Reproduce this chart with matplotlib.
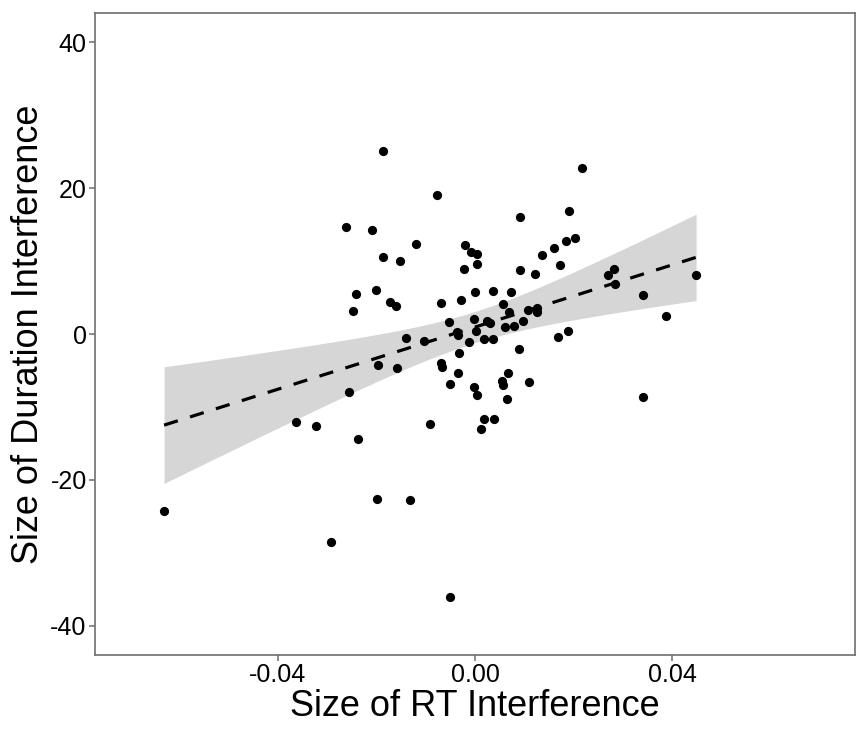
import numpy as np
import matplotlib
matplotlib.use("Agg")
import matplotlib.pyplot as plt

plt.rcParams["font.family"] = ["Liberation Sans", "DejaVu Sans"]
plt.rcParams["axes.unicode_minus"] = False

# values (x = RT interference, y = duration interference)
rt_interference = [
    -0.0186, -0.0261, -0.0209, -0.0186, -0.0242, -0.0201, -0.0248, 0.0216,
    -0.0077, 0.0091, 0.0190, -0.0152, -0.0119, -0.0020, -0.0009, 0.0005,
    -0.0022, 0.0005, 0.0092, 0.0122, 0.0135, 0.0160, 0.0184, 0.0203,
    0.0173, -0.0173, -0.0160, -0.0069, -0.0028, 0.0001, 0.0037, 0.0073,
    0.0056, 0.0069, 0.0107, 0.0125, 0.0126, 0.0097, 0.0080, 0.0061,
    -0.0001, 0.0024, 0.0030, 0.0003, -0.0053, -0.0037, -0.0139, -0.0104,
    -0.0197, -0.0158, -0.0034, -0.0013, 0.0018, 0.0037, 0.0090, 0.0168,
    0.0189, -0.0032, -0.0069, -0.0067, -0.0034, -0.0051, -0.0001, 0.0004,
    0.0067, 0.0055, 0.0056, 0.0110, 0.0065, 0.0019, 0.0039, 0.0012,
    -0.0092, -0.0132, -0.0199, -0.0630, -0.0255, -0.0363, -0.0323, -0.0238,
    0.0269, 0.0282, 0.0283, 0.0340, 0.0387, 0.0448, 0.0341, -0.0291,
    -0.0051,
]
duration_interference = [
    25.1, 14.6, 14.2, 10.6, 5.5, 6.0, 3.2, 22.8,
    19.1, 16.1, 16.9, 10.0, 12.4, 12.2, 11.3, 10.9,
    8.9, 9.6, 8.8, 8.2, 10.8, 11.8, 12.8, 13.1,
    9.5, 4.4, 3.9, 4.2, 4.7, 5.8, 5.9, 5.8,
    4.1, 3.0, 3.3, 3.6, 3.0, 1.8, 1.1, 0.9,
    2.1, 1.8, 1.5, 0.4, 1.6, 0.3, -0.5, -0.9,
    -4.2, -4.6, -0.1, -1.1, -0.7, -0.7, -2.0, -0.4,
    0.4, -2.6, -4.0, -4.5, -5.4, -6.9, -7.3, -8.3,
    -5.4, -6.4, -7.0, -6.6, -8.9, -11.7, -11.7, -13.0,
    -12.4, -22.8, -22.6, -24.2, -7.9, -12.1, -12.6, -14.4,
    8.1, 8.9, 6.8, 5.3, 2.5, 8.1, -8.6, -28.5,
    -36.0,
]

x_ticks = [-0.04, 0.00, 0.04]
x_tick_labels = ["-0.04", "0.00", "0.04"]
y_ticks = [-40, -20, 0, 20, 40]
x_minor = [-0.06, -0.02, 0.02, 0.06]
y_minor = [-30, -10, 10, 30]

x = np.array(rt_interference)
y = np.array(duration_interference)

# linear fit with 95% confidence band (like geom_smooth(method = "lm"))
slope, intercept = np.polyfit(x, y, 1)
n = len(x)
resid = y - (slope * x + intercept)
s = np.sqrt(np.sum(resid ** 2) / (n - 2))
sxx = np.sum((x - x.mean()) ** 2)
t_crit = 1.986
x_fit = np.linspace(x.min(), x.max(), 80)
y_fit = slope * x_fit + intercept
se = s * np.sqrt(1 / n + (x_fit - x.mean()) ** 2 / sxx)

fig = plt.figure(figsize=(8.59, 7.30), dpi=100)
ax = fig.add_axes([0.1106, 0.1027, 0.8847, 0.8795])

ax.scatter(x, y, s=44, color="black", zorder=3, linewidths=0)
ax.fill_between(x_fit, y_fit - t_crit * se, y_fit + t_crit * se,
                color="#999999", alpha=0.4, linewidth=0, zorder=2)
ax.plot(x_fit, y_fit, color="black", linewidth=2.3, dashes=(4.5, 4), zorder=4)

ax.set_xlim(-0.077, 0.077)
ax.set_ylim(-44, 44)
ax.set_xticks(x_ticks)
ax.set_xticklabels(x_tick_labels)
ax.set_yticks(y_ticks)
ax.set_xticks(x_minor, minor=True)
ax.set_yticks(y_minor, minor=True)

for sp in ax.spines.values():
    sp.set_color("#6e6e6e")
    sp.set_linewidth(1.2)
ax.tick_params(which="major", direction="out", length=4, width=1.1,
               color="#6e6e6e", labelsize=18, labelcolor="black", pad=2)
# white minor grid ends break the panel border like in the reference
ax.tick_params(which="minor", direction="inout", length=3, width=1,
               color="white", top=True, right=True)

ax.set_xlabel("Size of RT Interference", fontsize=26, labelpad=1)
ax.set_ylabel("Size of Duration Interference", fontsize=26, labelpad=3)

fig.savefig("out.png", dpi=100)
